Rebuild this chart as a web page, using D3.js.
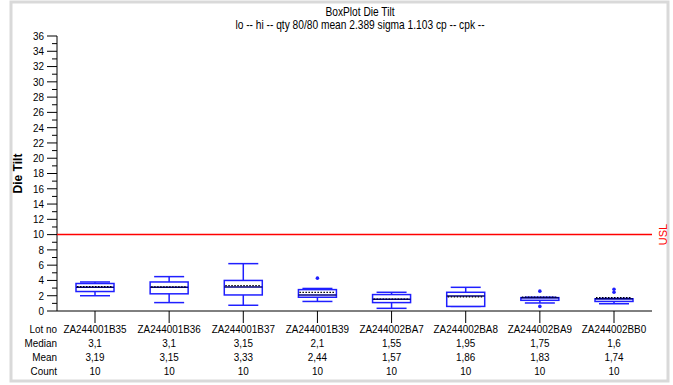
<!DOCTYPE html>
<html>
<head>
<meta charset="utf-8">
<script src="https://cdn.jsdelivr.net/npm/d3@7"></script>
<style>
  body { margin: 0; background: #fff; }
  text { font-family: "Liberation Sans", Arial, sans-serif; }
</style>
</head>
<body>
<svg id="mainSVG" width="673" height="385"></svg>
<script>
// lots and summary stats
const lots = ["ZA244001B35", "ZA244001B36", "ZA244001B37", "ZA244001B39",
              "ZA244002BA7", "ZA244002BA8", "ZA244002BA9", "ZA244002BB0"]
const medians = [3.1, 3.1, 3.15, 2.1, 1.55, 1.95, 1.75, 1.6]
const means = [3.19, 3.15, 3.33, 2.44, 1.57, 1.86, 1.83, 1.74]
const counts = [10, 10, 10, 10, 10, 10, 10, 10]
const q1 = [2.55, 2.25, 2.1, 1.8, 1.1, 0.6, 1.4, 1.25]
const q3 = [3.6, 3.8, 4.0, 2.8, 2.15, 2.45, 1.75, 1.6]
const whiskLo = [2.0, 1.1, 0.75, 1.25, 0.35, 0.6, 1.05, 0.95]
const whiskHi = [3.8, 4.5, 6.2, 2.95, 2.45, 3.1, 1.8, 1.65]
const outliers = [[], [], [], [4.3], [], [], [2.6, 0.6], [2.85, 2.45]]
const usl = 10
const yTicks = d3.range(0, 37, 2)

const svg = d3.select("#mainSVG")
const blue = "#1f1fff"

// frame
svg.append("rect")
    .attr("x", 11).attr("y", 2)
    .attr("width", 657).attr("height", 379)
    .attr("fill", "#fff")
    .attr("stroke", "#d9d9d9")
    .attr("stroke-width", 3)

const y = d3.scaleLinear().domain([0, 36]).range([311, 36])
const x = d3.scalePoint().domain(lots).range([95, 614])
const xLeft = 57, xRight = 652

// titles (narrow font look via horizontal squeeze)
svg.append("text")
    .attr("transform", "translate(360,16) scale(0.85,1)")
    .attr("text-anchor", "middle")
    .style("font-size", "12px")
    .text("BoxPlot Die Tilt")
svg.append("text")
    .attr("transform", "translate(360,29) scale(0.85,1)")
    .attr("text-anchor", "middle")
    .style("font-size", "12px")
    .text("lo -- hi -- qty 80/80 mean 2.389 sigma 1.103 cp -- cpk --")

// y axis: major ticks with labels, minor ticks in between
const yAxis = svg.append("g").attr("transform", `translate(${xLeft},0)`)
yAxis.append("line")
    .attr("y1", y(0)).attr("y2", y(36))
    .attr("stroke", "#000")
yAxis.selectAll(".minor").data(d3.range(1, 36, 2)).join("line")
    .attr("x1", -5).attr("x2", 0)
    .attr("y1", d => y(d)).attr("y2", d => y(d))
    .attr("stroke", "#000")
yAxis.selectAll(".major").data(yTicks).join("line")
    .attr("x1", -10).attr("x2", 0)
    .attr("y1", d => y(d)).attr("y2", d => y(d))
    .attr("stroke", "#000")
yAxis.selectAll(".lab").data(yTicks).join("text")
    .attr("transform", d => `translate(-13,${y(d)}) scale(0.9,1)`)
    .attr("dy", "0.35em")
    .attr("text-anchor", "end")
    .style("font-size", "11px")
    .text(d => d)

svg.append("text")
    .attr("transform", `translate(22,${(y(0) + y(36)) / 2}) rotate(-90)`)
    .attr("text-anchor", "middle")
    .style("font-size", "12px")
    .style("font-weight", "bold")
    .text("Die Tilt")

// x axis
svg.append("line")
    .attr("x1", xLeft).attr("x2", xRight)
    .attr("y1", y(0)).attr("y2", y(0))
    .attr("stroke", "#000")
svg.selectAll(".xtick").data(lots).join("line")
    .attr("x1", d => x(d)).attr("x2", d => x(d))
    .attr("y1", y(0)).attr("y2", y(0) + 12)
    .attr("stroke", "#000")

// USL line
svg.append("line")
    .attr("x1", xLeft).attr("x2", xRight)
    .attr("y1", y(usl)).attr("y2", y(usl))
    .attr("stroke", "#ff0000")
    .attr("stroke-width", 1.5)
svg.append("text")
    .attr("transform", `translate(663,${y(usl)}) rotate(-90)`)
    .attr("text-anchor", "middle")
    .attr("dy", "0.35em")
    .attr("fill", "#ff0000")
    .style("font-size", "11px")
    .text("USL")

// boxes
const boxW = 38, capW = 15
lots.forEach((lot, i) => {
    const cx = x(lot)
    const g = svg.append("g")
    g.append("line")
        .attr("x1", cx).attr("x2", cx)
        .attr("y1", y(q3[i])).attr("y2", y(whiskHi[i]))
        .attr("stroke", blue).attr("stroke-width", 1.5)
    g.append("line")
        .attr("x1", cx).attr("x2", cx)
        .attr("y1", y(q1[i])).attr("y2", y(whiskLo[i]))
        .attr("stroke", blue).attr("stroke-width", 1.5)
    g.selectAll(".cap").data([whiskLo[i], whiskHi[i]]).join("line")
        .attr("x1", cx - capW).attr("x2", cx + capW)
        .attr("y1", d => y(d)).attr("y2", d => y(d))
        .attr("stroke", blue).attr("stroke-width", 1.5)
    g.append("rect")
        .attr("x", cx - boxW / 2).attr("width", boxW)
        .attr("y", y(q3[i])).attr("height", y(q1[i]) - y(q3[i]))
        .attr("fill", "#fff")
        .attr("stroke", blue).attr("stroke-width", 1.5)
    g.append("line")
        .attr("x1", cx - boxW / 2).attr("x2", cx + boxW / 2)
        .attr("y1", y(medians[i])).attr("y2", y(medians[i]))
        .attr("stroke", "#000080").attr("stroke-width", 1.5)
    g.append("line")
        .attr("x1", cx - boxW / 2 + 1).attr("x2", cx + boxW / 2 - 1)
        .attr("y1", y(means[i])).attr("y2", y(means[i]))
        .attr("stroke", "#000").attr("stroke-width", 1.2)
        .attr("stroke-dasharray", "1.5,1.5")
    g.selectAll(".out").data(outliers[i]).join("circle")
        .attr("cx", cx).attr("cy", d => y(d))
        .attr("r", 1.8)
        .attr("fill", blue)
})

// table under the axis
const fmt = v => String(v).replace(".", ",")
const rows = [
    { label: "Lot no", values: lots },
    { label: "Median", values: medians.map(fmt) },
    { label: "Mean", values: means.map(fmt) },
    { label: "Count", values: counts.map(String) }
]
const rowY = d3.scalePoint().domain(rows.map(r => r.label)).range([333, 375])
rows.forEach(r => {
    svg.append("text")
        .attr("transform", `translate(57,${rowY(r.label)}) scale(0.9,1)`)
        .attr("text-anchor", "end")
        .style("font-size", "11px")
        .text(r.label)
    svg.selectAll(null).data(r.values).join("text")
        .attr("transform", (d, i) => `translate(${x(lots[i])},${rowY(r.label)}) scale(0.9,1)`)
        .attr("text-anchor", "middle")
        .style("font-size", "11px")
        .text(d => d)
})
</script>
</body>
</html>
